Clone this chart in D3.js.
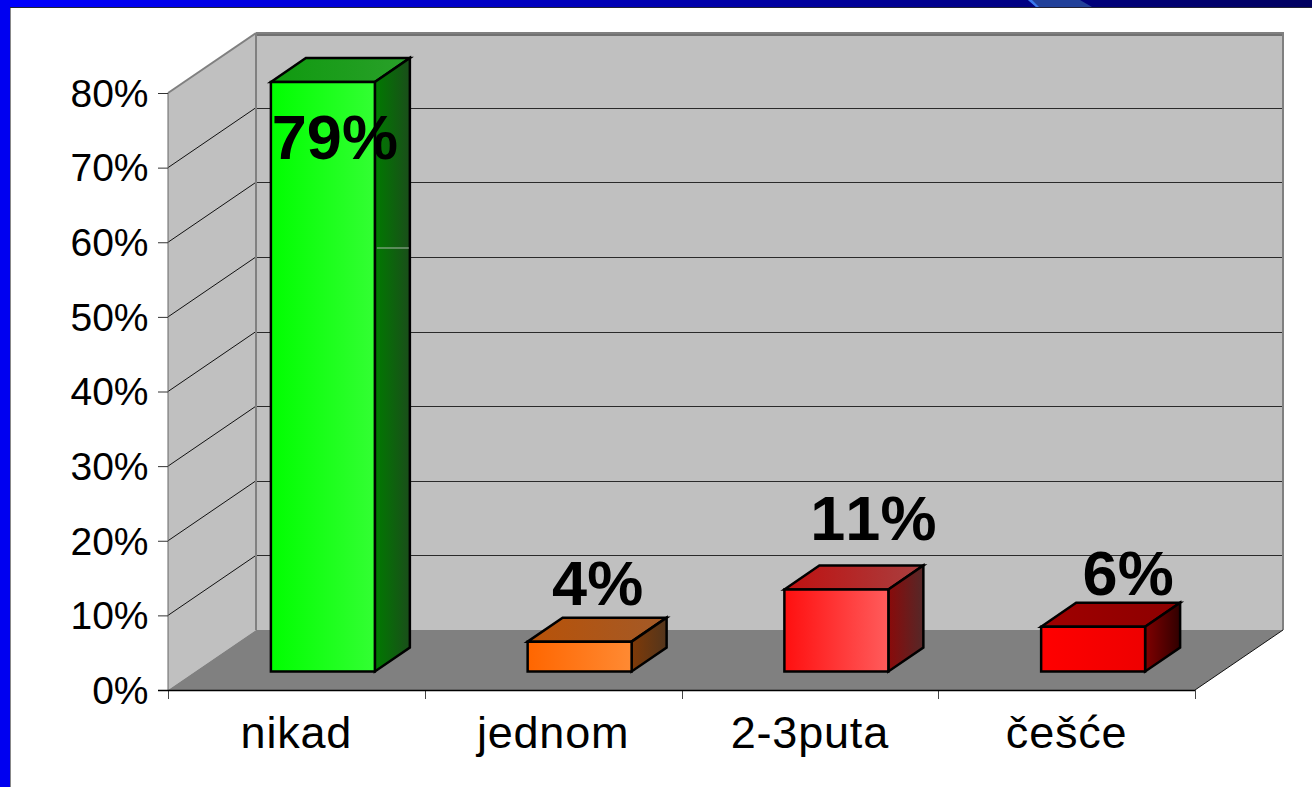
<!DOCTYPE html>
<html><head><meta charset="utf-8">
<style>html,body{margin:0;padding:0;background:#fff;overflow:hidden}svg{display:block}
text{font-family:"Liberation Sans",Arial,sans-serif;fill:#000;font-kerning:none}</style>
<script src="https://cdn.jsdelivr.net/npm/d3@7"></script></head>
<body><svg id="c" width="1312" height="787"></svg>
<script>
const categories = ["nikad","jednom","2-3puta","češće"];
const values = [0.79,0.04,0.11,0.06];
const valueLabels = ["79%","4%","11%","6%"];
const tickValues = [0,0.1,0.2,0.3,0.4,0.5,0.6,0.7,0.8];

const W=1312,H=787;
const svg=d3.select("#c"), defs=svg.append("defs");
const x=d3.scaleBand().domain(categories).range([168,1195]).paddingInner(0.595).paddingOuter(0.2975);
const y=d3.scaleLinear().domain([0,0.8]).range([690,93]);
const DX=88,DY=-60;              // wall depth
const barOff=[26.5,-18.5], barD=[35,-24]; // bar placement within depth
const palette=[
 {front:["#00ff00","#33ff33"],top:["#0f9a0f","#2aa02a"],side:["#007a00","#1a4d1a"]},
 {front:["#ff6600","#ff8a33"],top:["#b85208","#a35a28"],side:["#7f3a08","#53351c"]},
 {front:["#ff0f0f","#ff5c5c"],top:["#c01010","#a84040"],side:["#8a0a0a","#552828"]},
 {front:["#ff0000","#ee0000"],top:["#a00000","#8c0000"],side:["#800000","#300000"]}
];
function grad(id,c){const g=defs.append("linearGradient").attr("id",id);
 g.append("stop").attr("offset",0).attr("stop-color",c[0]);
 g.append("stop").attr("offset",1).attr("stop-color",c[1]);}
palette.forEach((p,i)=>{grad("f"+i,p.front);grad("t"+i,p.top);grad("s"+i,p.side);});
grad("hdr",["#0000ff","#000060"]);

// slide frame
svg.append("rect").attr("width",W).attr("height",7).attr("fill","url(#hdr)");
svg.append("rect").attr("width",10).attr("height",H).attr("fill","#0000f0");
svg.append("path").attr("d","M1028 0L1036 7L1092 7L1080 0Z").attr("fill","#22409a");
svg.append("path").attr("d","M1028 0L1036 7L1039 7L1032 0Z").attr("fill","#3a78f0");
svg.append("line").attr("x1",10.5).attr("x2",10.5).attr("y1",7).attr("y2",H).attr("stroke","#888");
svg.append("line").attr("x1",10).attr("x2",W).attr("y1",7.5).attr("y2",7.5).attr("stroke","#223");

const x0=x.range()[0],x1=x.range()[1],yB=y(0),yT=y(0.8);
const poly=p=>"M"+p.map(d=>d.join(",")).join("L")+"Z";
// walls
svg.append("path").attr("d",poly([[x0+DX,yB+DY],[x1+DX,yB+DY],[x1+DX,yT+DY],[x0+DX,yT+DY]])).attr("fill","#c0c0c0");
svg.append("path").attr("d",poly([[x0,yB],[x0+DX,yB+DY],[x0+DX,yT+DY],[x0,yT]])).attr("fill","#c0c0c0");
svg.append("path").attr("d",poly([[x0,yB],[x0+DX,yB+DY],[x1+DX,yB+DY],[x1,yB]])).attr("fill","#808080");
// gridlines
const inner=tickValues.slice(1);
svg.selectAll(".gs").data(inner.slice(0,-1)).join("line")
 .attr("x1",x0).attr("y1",d=>y(d)).attr("x2",x0+DX).attr("y2",d=>y(d)+DY)
 .attr("stroke","#111").attr("stroke-width",1);
svg.selectAll(".gb").data(inner.slice(0,-1)).join("line")
 .attr("x1",x0+DX).attr("y1",d=>Math.round(y(d)+DY)+.5).attr("x2",x1+DX).attr("y2",d=>Math.round(y(d)+DY)+.5)
 .attr("stroke","#2a2a2a").attr("stroke-width",1);
// wall edges
const edge=(a,b,c,w)=>svg.append("line").attr("x1",a[0]).attr("y1",a[1]).attr("x2",b[0]).attr("y2",b[1]).attr("stroke",c).attr("stroke-width",w);
edge([x0,yT],[x0+DX,yT+DY],"#808080",2);
edge([x0+DX,yT+DY],[x1+DX+1,yT+DY],"#808080",2);
edge([x0+DX,yT+DY+2],[x1+DX,yT+DY+2],"#222",1);
edge([x0+DX,yT+DY],[x0+DX,yB+DY],"#808080",2);
edge([x1+DX,yT+DY],[x1+DX,yB+DY],"#808080",2);
edge([x0,yT],[x0,yB],"#666",1);
edge([x1,yB],[x1+DX,yB+DY],"#111",1);

// axes
const gy=svg.append("g").attr("transform",`translate(${x0},0)`)
 .call(d3.axisLeft(y).tickValues(tickValues).tickFormat(d3.format(".0%")).tickSize(10).tickPadding(9.5));
gy.select(".domain").remove();
gy.selectAll("line").attr("stroke","#333");
gy.selectAll("text").style("font-size","39px").attr("dy","0.34em");
const xTicks=x.domain().map((d,i)=>x0+i*x.step());xTicks.push(x1);
svg.selectAll(".xt").data(xTicks).join("line").attr("x1",d=>Math.round(d)+.5).attr("x2",d=>Math.round(d)+.5)
 .attr("y1",yB).attr("y2",yB+9).attr("stroke","#444");
edge([x0-10,yB+.5],[x1,yB+.5],"#000",1.5);
svg.selectAll(".xl").data(categories).join("text")
 .attr("x",d=>x(d)+x.bandwidth()/2).attr("y",748).attr("text-anchor","middle")
 .style("font-size","45px").style("letter-spacing","0.8px").text(d=>d);

// bars
categories.forEach((c,i)=>{
 const l=x(c)+barOff[0], r=l+x.bandwidth(), b=y(0)+barOff[1], t=y(values[i])+barOff[1];
 const [dx,dy]=barD;
 const g=svg.append("g").attr("stroke","#000").attr("stroke-width",2.5).attr("stroke-linejoin","miter");
 g.append("path").attr("d",poly([[l,t],[l+dx,t+dy],[r+dx,t+dy],[r,t]])).attr("fill",`url(#t${i})`);
 g.append("path").attr("d",poly([[r,t],[r+dx,t+dy],[r+dx,b+dy],[r,b]])).attr("fill",`url(#s${i})`);
 g.append("path").attr("d",poly([[l,t],[r,t],[r,b],[l,b]])).attr("fill",`url(#f${i})`);
 if(i===0) svg.append("line").attr("x1",r+2).attr("x2",r+dx-1).attr("y1",248).attr("y2",248).attr("stroke","#a8b8a8").attr("stroke-width",1);
});
// data labels
const labelNudge=[[12,77],[18,-37],[37,-49],[35,-32]];
categories.forEach((c,i)=>{
 svg.append("text").attr("x",x(c)+barOff[0]+x.bandwidth()/2+labelNudge[i][0])
  .attr("y",y(values[i])+barOff[1]+labelNudge[i][1]).attr("text-anchor","middle")
  .style("font-size","63px").style("font-weight","bold").text(valueLabels[i]);
});
</script></body></html>
